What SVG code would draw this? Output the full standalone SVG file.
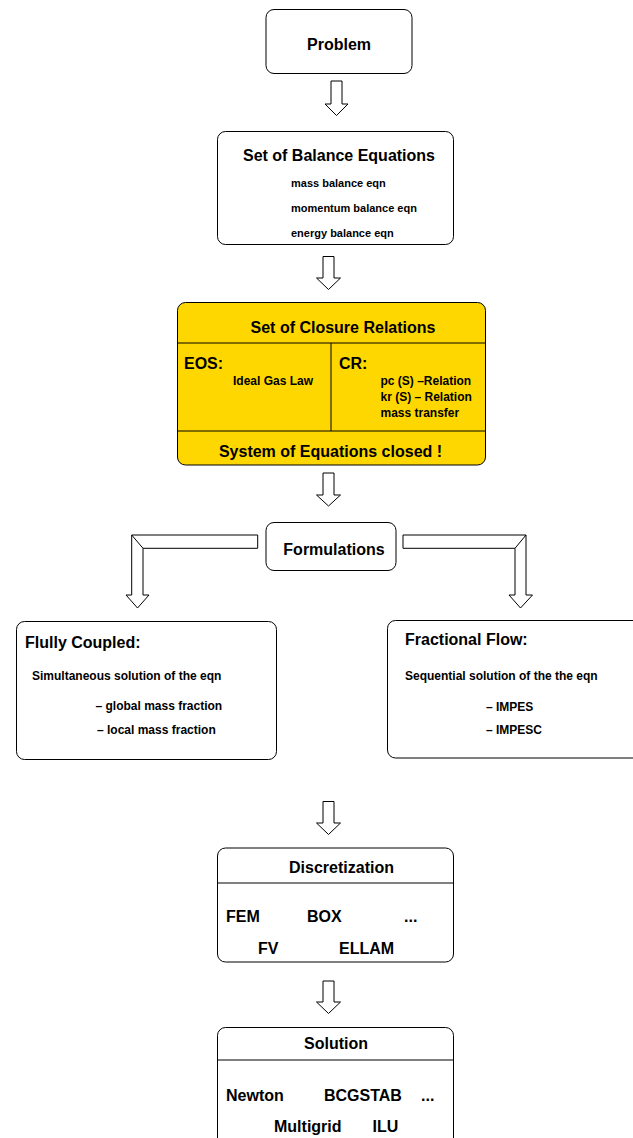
<svg xmlns="http://www.w3.org/2000/svg" width="633" height="1138" viewBox="0 0 633 1138">
<style>
.box{fill:#fff;stroke:#000;stroke-width:1}
.gold{fill:#ffd700;stroke:#000;stroke-width:1}
.ln{stroke:#000;stroke-width:1;fill:none}
.arr{fill:#fff;stroke:#000;stroke-width:1;stroke-linejoin:miter}
text{font-family:"Liberation Sans",Arial,sans-serif;font-weight:bold;fill:#000}
.t16{font-size:16px}
.t12{font-size:12px}
.t11{font-size:11px}
.mid{text-anchor:middle}
</style>
<rect width="633" height="1138" fill="#fff"/>
<g id="connectors">
<polygon class="arr" points="331,81 342,81 342,104 348,104 336.5,115.5 325,104 331,104"/>
<polygon class="arr" points="323,256.5 334,256.5 334,278 340.5,278 328.5,289.5 316.5,278 323,278"/>
<polygon class="arr" points="323,473 334,473 334,495 340.5,495 328.5,506 316.5,495 323,495"/>
<polygon class="arr" points="323,801.5 334,801.5 334,823 340.5,823 328.5,834.5 316.5,823 323,823"/>
<polygon class="arr" points="323,981 334,981 334,1002 340.5,1002 328.5,1013.5 316.5,1002 323,1002"/>
<polygon class="arr" points="257.7,535 131.7,535 131.7,595 126,595 137.5,608 149,595 143,595 143,548.3 257.7,548.3"/>
<line class="ln" x1="131.7" y1="535" x2="143" y2="548.3"/>
<polygon class="arr" points="403,535 526,535 526,595 532.5,595 520.5,608 509,595 515,595 515,548.3 403,548.3"/>
<line class="ln" x1="526" y1="535" x2="515" y2="548.3"/>
</g>
<g id="problem">
<rect class="box" x="266" y="9.5" width="146" height="64" rx="8"/>
<text class="t16 mid" x="339" y="50">Problem</text>
</g>
<g id="balance">
<rect class="box" x="217.5" y="131.5" width="236" height="113" rx="8"/>
<text class="t16 mid" x="339" y="161">Set of Balance Equations</text>
<text class="t11" x="291" y="187">mass balance eqn</text>
<text class="t11" x="291" y="212">momentum balance eqn</text>
<text class="t11" x="291" y="237">energy balance eqn</text>
</g>
<g id="closure">
<rect class="gold" x="177.5" y="302.5" width="308" height="162.5" rx="8"/>
<line class="ln" x1="177.5" y1="343" x2="485.5" y2="343"/>
<line class="ln" x1="331" y1="343" x2="331" y2="431"/>
<line class="ln" x1="177.5" y1="431" x2="485.5" y2="431"/>
<text class="t16 mid" x="343" y="333">Set of Closure Relations</text>
<text class="t16" x="184" y="369">EOS:</text>
<text class="t12" x="233" y="384.5">Ideal Gas Law</text>
<text class="t16" x="339" y="369">CR:</text>
<text class="t12" x="380.5" y="384.5">pc (S) –Relation</text>
<text class="t12" x="380.5" y="401">kr (S) – Relation</text>
<text class="t12" x="380.5" y="417">mass transfer</text>
<text class="t16 mid" x="330.5" y="457">System of Equations closed !</text>
</g>
<g id="formulations">
<rect class="box" x="266" y="522.5" width="130" height="48" rx="8"/>
<text class="t16 mid" x="334" y="555">Formulations</text>
</g>
<g id="fully-coupled">
<rect class="box" x="16.5" y="621.5" width="260" height="138" rx="8"/>
<text class="t16" x="25" y="648">Flully Coupled:</text>
<text class="t12" x="32" y="680">Simultaneous solution of the eqn</text>
<text class="t12" x="95.5" y="709.5">– global mass fraction</text>
<text class="t12" x="97" y="734">– local mass fraction</text>
</g>
<g id="fractional-flow">
<rect class="box" x="387.5" y="620.5" width="260" height="137.5" rx="8"/>
<text class="t16" x="405" y="645">Fractional Flow:</text>
<text class="t12" x="405" y="680">Sequential solution of the the eqn</text>
<text class="t12" x="486" y="711">– IMPES</text>
<text class="t12" x="486" y="734">– IMPESC</text>
</g>
<g id="discretization">
<rect class="box" x="217.5" y="848" width="236" height="114" rx="8"/>
<line class="ln" x1="217.5" y1="883" x2="453.5" y2="883"/>
<text class="t16 mid" x="341.5" y="873">Discretization</text>
<text class="t16" x="226" y="921.5">FEM</text>
<text class="t16" x="307" y="921.5">BOX</text>
<text class="t16" x="404" y="921.5">...</text>
<text class="t16" x="258" y="954">FV</text>
<text class="t16" x="339" y="954">ELLAM</text>
</g>
<g id="solution">
<rect class="box" x="217.5" y="1027.5" width="236" height="120" rx="8"/>
<line class="ln" x1="217.5" y1="1060" x2="453.5" y2="1060"/>
<text class="t16 mid" x="336" y="1049">Solution</text>
<text class="t16" x="226" y="1100.5">Newton</text>
<text class="t16" x="324" y="1100.5">BCGSTAB</text>
<text class="t16" x="421" y="1100.5">...</text>
<text class="t16" x="274" y="1132">Multigrid</text>
<text class="t16" x="372.5" y="1132">ILU</text>
</g>
</svg>
